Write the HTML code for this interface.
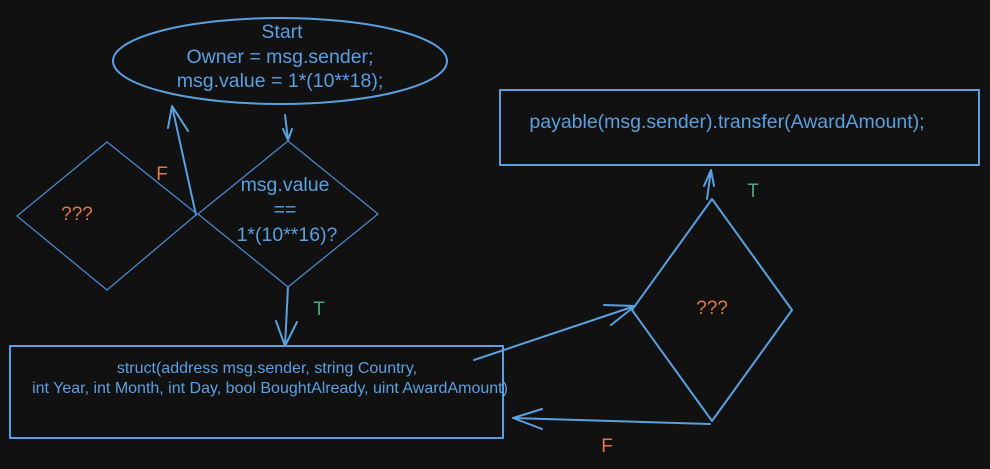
<!DOCTYPE html>
<html><head><style>
html,body{margin:0;padding:0;background:#111111;}
svg{display:block;}
text{font-family:"Liberation Sans",sans-serif;}
</style></head><body>
<svg width="990" height="469" viewBox="0 0 990 469" xmlns="http://www.w3.org/2000/svg">
<rect width="990" height="469" fill="#111111"/>
<g fill="none" stroke="#5aa0e0" stroke-width="2" stroke-linecap="round" stroke-linejoin="round">
<ellipse cx="280" cy="61" rx="167" ry="43"/>
<rect x="500" y="90" width="479" height="75"/>
<rect x="10" y="346" width="493" height="92"/>
<polygon points="712,199 792,310 712,421 632,310"/>
<path d="M196,215 L172,106 M168,128 L172,106 L188,131"/>
<path d="M285,115 L288,140 M283,129 L288,140 L292,129"/>
<path d="M288,287 L285,346 M276,321 L285,346 L297,322"/>
<path d="M474,360 L635,306 M604,305 L635,306 L611,325"/>
<path d="M710,424 L513,418 M542,409 L513,418 L542,429"/>
<path d="M707,199 L711,170 M704,186 L711,170 L714,186"/>
</g>
<g fill="none" stroke="#4a86c8" stroke-width="1.3">
<polygon points="107,142 197,214 107,290 17,216"/>
<polygon points="288,141 378,214 288,287 198,214"/>
</g>
<g fill="#5aa0e0" font-size="19.5" text-anchor="middle">
<text x="282" y="38">Start</text>
<text x="280" y="63">Owner = msg.sender;</text>
<text x="280" y="87">msg.value = 1*(10**18);</text>
<text x="285" y="191">msg.value</text>
<text x="285" y="216">==</text>
<text x="287" y="241">1*(10**16)?</text>
<text x="727" y="128">payable(msg.sender).transfer(AwardAmount);</text>
</g>
<g fill="#5aa0e0" font-size="16" text-anchor="middle">
<text x="267" y="373">struct(address msg.sender, string Country,</text>
<text x="270" y="393">int Year, int Month, int Day, bool BoughtAlready, uint AwardAmount)</text>
</g>
<g font-size="19" text-anchor="middle">
<text x="77" y="220" fill="#e07a4a">???</text>
<text x="712" y="314" fill="#e07a4a">???</text>
<text x="162" y="180" fill="#e07a4a">F</text>
<text x="607" y="452" fill="#e07a4a">F</text>
<text x="319" y="315" fill="#4aa87a">T</text>
<text x="753" y="197" fill="#4aa87a">T</text>
</g>
</svg>
</body></html>
